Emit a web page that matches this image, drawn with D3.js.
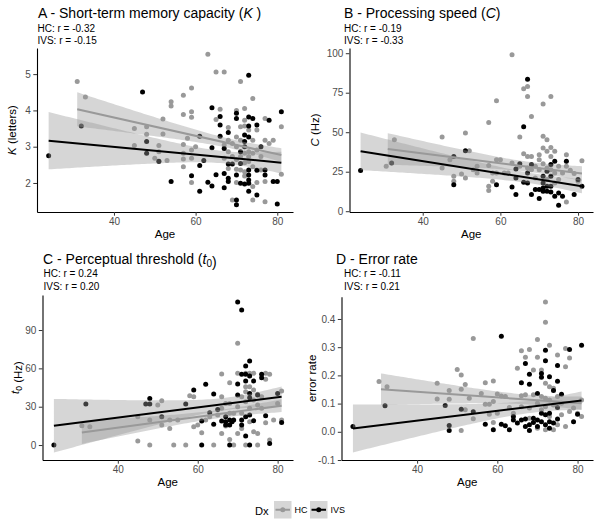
<!DOCTYPE html>
<html><head><meta charset="utf-8">
<script src="https://cdn.jsdelivr.net/npm/d3@7"></script>
<style>body{margin:0;background:#fff} text{font-family:"Liberation Sans",Arial,sans-serif}</style>
</head><body><svg id="c" width="600" height="524"></svg>
<script>
// ---------------- data ----------------
const ageTicks = [40, 60, 80];
const kTicks = [2, 3, 4, 5];
const cTicks = [0, 25, 50, 75, 100];
const t0Ticks = [0, 30, 60, 90];
const errTicks = [-0.1, 0, 0.1, 0.2, 0.3, 0.4];
const groups = ["HC", "IVS"];

const kHC = [[31,4.8],[33,4.37],[45,3.5],[45,3.03],[48,3.55],[48,3.34],[50,2.68],[51,3.03],[51,2.86],[51,2.59],[52,3.76],[52,3.35],[53,2.62],[54,4.24],[54,4.12],[57,4.42],[57,3.89],[57,3.06],[57,2.82],[57,2.66],[57,2.45],[58,3.23],[59,4.62],[59,3.96],[59,3.81],[59,2.91],[59,2.68],[59,2.01],[60,3.0],[63,5.55],[65,5.06],[65,3.75],[66,4.03],[67,5.06],[67,3.05],[67,2.68],[68,3.53],[68,3.18],[68,2.86],[68,2.4],[69,3.09],[69,2.73],[69,1.53],[70,4.0],[70,3.27],[70,3.0],[70,2.65],[70,2.38],[70,2.01],[71,4.8],[71,3.55],[71,3.18],[71,2.73],[71,2.36],[72,4.05],[72,3.73],[72,3.57],[72,2.82],[72,2.56],[72,2.31],[72,2.19],[73,3.46],[73,2.86],[73,2.73],[73,2.59],[74,4.33],[74,3.18],[74,2.82],[74,2.45],[74,1.9],[74,1.53],[75,3.46],[75,2.91],[75,2.01],[76,2.73],[76,2.36],[77,3.78],[77,3.18],[77,2.04],[77,1.48],[78,3.09],[79,3.18],[81,3.55],[81,2.24]];
const kIVS = [[24,2.75],[32,3.57],[47,4.51],[48,3.14],[48,2.82],[51,2.6],[54,2.04],[59,2.2],[61,3.29],[61,2.48],[61,1.77],[62,2.62],[63,2.02],[64,2.97],[64,4.07],[64,1.92],[65,2.23],[66,3.83],[66,3.6],[66,3.29],[67,2.95],[67,2.26],[67,1.87],[68,3.39],[68,2.52],[68,2.13],[68,2.04],[69,2.52],[70,3.92],[70,3.78],[70,1.53],[70,1.4],[70,2.22],[71,1.99],[71,2.86],[71,2.54],[72,1.97],[72,3.32],[72,3.14],[72,3.0],[73,4.97],[73,3.82],[73,3.57],[73,3.27],[73,2.36],[73,2.22],[73,2.08],[73,1.99],[73,1.77],[74,3.78],[75,3.6],[75,2.35],[75,1.67],[76,3.0],[77,2.22],[77,2.36],[78,3.73],[79,2.04],[80,2.04],[80,1.42],[81,3.96]];

const cHC = [[30.6,28.4],[32.7,45.3],[45,46.9],[45,27.4],[47,32.6],[48,22.1],[48,18.9],[50,23.6],[51,49.5],[51,21],[52,38.3],[53,26.3],[54,28.4],[54,24.2],[57,56.2],[57,29],[57,15.8],[57,13.1],[58,24.2],[58,18.9],[59,69.9],[59,32.6],[59,24.2],[60,32.6],[61,24.2],[62,24.2],[63,99],[63,30.5],[65,46.9],[65,28.4],[66,77.5],[66,36.4],[67,78.9],[67,72.6],[67,34.7],[67,27.4],[68,60],[68,34.7],[68,26.3],[69,28.4],[69,21],[70,32.6],[70,35.8],[70,26.3],[71,67.8],[71,47.4],[71,40],[71,30.1],[72,45.3],[72,37.9],[72,27.4],[72,20],[73,72.6],[73,40.4],[73,34.7],[73,26.3],[74,37.9],[74,24.2],[74,17.9],[75,28.4],[75,20],[76,24.2],[77,35.8],[77,28.4],[77,5.9],[78,25.9],[79,23.8],[80,18.9],[81,32]];
const cIVS = [[24,25.7],[32,30.5],[48,16.8],[48,34.7],[51,38.3],[59,16.8],[63,15.4],[64,21],[64,26.7],[64,10.5],[65,30.1],[66,53.5],[66,18.3],[67,83.6],[67,24.2],[67,17.9],[68,10.5],[68,29.5],[69,13.7],[70,13.7],[70,8],[71,12.6],[71,14.7],[71,22.1],[71,17.9],[72,15.8],[72,12.6],[72,25.3],[73,29.5],[73,22.1],[73,15.8],[73,12.2],[74,31.6],[74,9.5],[75,3.8],[75,11.6],[76,9.5],[77,31.6],[79,10.5],[80,20],[81,15.8]];

const t0HC = [[31,15.1],[33,14.3],[45,3.1],[45,22.2],[48,0],[48,19.6],[50,31.3],[51,34.7],[51,15.7],[53,19.6],[53,13],[54,0],[55,19.6],[57,0],[58,38.6],[59,37.8],[59,14.3],[60,15.7],[61,9.7],[62,19.6],[63,22.2],[64,0],[65,23.5],[66,55.6],[66,37.8],[66,28.7],[66,9.1],[67,14.9],[67,32.6],[68,48.8],[68,32.6],[68,24.8],[68,4.4],[69,0],[69,24.8],[70,79.6],[70,56.1],[70,30],[70,9.1],[71,37.8],[71,24.8],[71,13],[72,56.1],[72,45.7],[72,41.7],[72,33.9],[72,0],[73,56.1],[73,45.7],[73,28.7],[73,18.3],[74,56.1],[74,43],[74,35.2],[74,10.4],[75,39.7],[75,31.3],[75,9.1],[75,0],[76,37.8],[76,28.7],[77,56.1],[77,51.4],[77,17.5],[78,55.3],[78,3.9],[79,19.6],[80,32.6],[81,42.3],[81,19.6]];
const t0IVS = [[24,0],[32,32.1],[47,32.1],[48,36.5],[48,32.1],[51,22.2],[57,32.1],[59,43],[61,18.8],[61,0],[62,47.5],[63,25.3],[64,39.9],[64,16.2],[65,27.9],[66,18.8],[67,22.2],[67,15.7],[67,18.3],[68,19.6],[68,15.7],[68,0],[68.6,18.3],[69,19.6],[70,112],[70,47.7],[70,39.1],[71,105.7],[71,55.3],[71,15.7],[71,19.6],[72,61.8],[72,55.3],[72,50.1],[72,7],[72,22.2],[73,65.7],[73,54],[73,40.4],[73,37],[73,23.5],[73,0],[74,50.1],[74,19],[75,39.1],[76,55.3],[76,52.7],[77,23],[78,1.3],[80,40.4],[81,17.7]];

const errHC = [[30.5,0.178],[32.5,0.16],[45,0.172],[45,0.116],[48,0.146],[48,0.115],[50,0.221],[51,0.201],[51,0.151],[51,0.005],[52,0.168],[52,0.078],[53,0.119],[54,0.331],[54,0.046],[56,0.136],[57,0.174],[57,0.098],[58,0.098],[58,0.062],[59,0.18],[59,0.107],[59,0.033],[60,0.134],[60,0.066],[61,0.127],[62,0.125],[63,0.086],[64,0.066],[65,0.225],[66,0.287],[66,0.128],[66,0.089],[67,0.264],[67,0.131],[68,0.292],[68,0.084],[68,0.048],[69,0.219],[69,0.131],[70,0.327],[70,0.264],[70,0.101],[70,0.013],[71,0.219],[71,0.125],[71,0.078],[72,0.46],[72,0.388],[72,0.172],[72,0.119],[72,0.089],[72,0.007],[73,0.307],[73,0.16],[73,0.113],[73,0.054],[74,0.154],[74,0.095],[74,0.007],[75,0.272],[75,0.125],[75,0.025],[76,0.101],[76,0.06],[77,0.231],[77,0.295],[77,0.019],[78,0.262],[78,0.072],[79,0.084],[80,0.066],[81,0.113],[81,0.054]];
const errIVS = [[24,0.019],[32,0.092],[47,0.093],[48,0.022],[48,0.005],[51,0.08],[54,0.071],[57,0.027],[59,0.007],[61,0.339],[61,0.027],[62,0.021],[63,0.007],[64,0.054],[64,0.042],[65,0.031],[66,0.042],[66,0.174],[67,0.242],[67,0.045],[67,0.019],[68,0.204],[68,0.169],[68,0.025],[68,0.005],[69,0.048],[69,0.033],[70,0.136],[70,0.042],[70,0.019],[71,0.207],[71,0.193],[71,0.066],[71,0.036],[72,0.289],[72,0.252],[72,0.06],[72,0.025],[73,0.195],[73,0.066],[73,0.036],[73,0.013],[74,0.146],[74,0.031],[75,0.235],[75,0.179],[75,0.045],[75,0.086],[76,0.133],[78,0.292],[79,0.036],[80,0.062],[81,0.307]];

// linear fits: end ages, fitted values, CI half widths (ends, minimum)
const fitK   = [{dx:"HC",x0:31,x1:81,y0:4.03,y1:2.77,h0:0.47,h1:0.19,hm:0.13},{dx:"IVS",x0:24,x1:81,y0:3.165,y1:2.56,h0:0.79,h1:0.3,hm:0.17}];
const fitC   = [{dx:"HC",x0:31,x1:81,y0:39.4,y1:23.8,h0:10,h1:4.7,hm:3.2},{dx:"IVS",x0:24,x1:81,y0:37.9,y1:15.8,h0:11.9,h1:4.5,hm:3.3}];
const fitT0  = [{dx:"HC",x0:31,x1:81,y0:9.9,y1:30.8,h0:9,h1:5,hm:3.2},{dx:"IVS",x0:24,x1:81,y0:15.1,y1:37.8,h0:21,h1:8,hm:4.8}];
const fitErr = [{dx:"HC",x0:31,x1:81,y0:0.151,y1:0.101,h0:0.056,h1:0.024,hm:0.017},{dx:"IVS",x0:24,x1:81,y0:0.012,y1:0.111,h0:0.085,h1:0.032,hm:0.022}];

const rK = ["HC: r = -0.32", "IVS: r = -0.15"];
const rC = ["HC: r = -0.19", "IVS: r = -0.33"];
const rT0 = ["HC: r = 0.24", "IVS: r = 0.20"];
const rErr = ["HC: r = -0.11", "IVS: r = 0.21"];

// ---------------- drawing ----------------
const svg = d3.select("#c");
const color = d3.scaleOrdinal().domain(groups).range(["#999999", "#000000"]);

const panels = [
  {title:["A - Short-term memory capacity (", {it:"K"}, " )"], r:rK, ylab:[{it:"K"}," (letters)"], hc:kHC, ivs:kIVS, fit:fitK, ticks:kTicks, fmt:d=>String(d),
   L:37, R:293, T:48, B:212, yd:[1.2,5.72], tx:38, sx:37.5, ty:18, ylx:12},
  {title:["B - Processing speed (", {it:"C"}, ")"], r:rC, ylab:[{it:"C"}," (Hz)"], hc:cHC, ivs:cIVS, fit:fitC, ticks:cTicks, fmt:d=>String(d),
   L:349.5, R:593, T:48, B:212, yd:[-0.5,103.3], tx:344, sx:344, ty:18, ylx:315},
  {title:["C - Perceptual threshold (", {it:"t", sub:"0"}, ")"], r:rT0, ylab:[{it:"t", sub:"0"}," (Hz)"], hc:t0HC, ivs:t0IVS, fit:fitT0, ticks:t0Ticks, fmt:d=>String(d),
   L:42.5, R:293, T:295, B:460, yd:[-11.7,117.4], tx:43, sx:43.5, ty:263.5, ylx:15},
  {title:["D - Error rate"], r:rErr, ylab:["error rate"], hc:errHC, ivs:errIVS, fit:fitErr, ticks:errTicks, fmt:d=>d.toFixed(1),
   L:341.5, R:593, T:296.7, B:460, yd:[-0.1,0.479], tx:336, sx:344, ty:263.5, ylx:312}
];

function richText(sel, parts, subSize) {
  parts.forEach(p => {
    if (typeof p === "string") sel.append("tspan").text(p);
    else {
      sel.append("tspan").attr("font-style","italic").text(p.it);
      if (p.sub) {
        sel.append("tspan").attr("font-size", subSize).attr("dy", "0.3em").text(p.sub);
        sel.append("tspan").attr("dy", "-0.3em").text("");
      }
    }
  });
}

panels.forEach(p => {
  const g = svg.append("g");
  const x = d3.scaleLinear().domain([21.15, 83.85]).range([p.L, p.R]);
  const y = d3.scaleLinear().domain(p.yd).range([p.B, p.T]);

  // points
  [["HC", p.hc], ["IVS", p.ivs]].forEach(([dx, arr]) => {
    g.append("g").selectAll("circle").data(arr).join("circle")
      .attr("cx", d => x(d[0])).attr("cy", d => y(d[1])).attr("r", 2.5)
      .attr("fill", color(dx));
  });

  // smooth: ribbon then line per group
  p.fit.forEach(f => {
    const A0 = f.h0*f.h0 - f.hm*f.hm, A1 = f.h1*f.h1 - f.hm*f.hm;
    const rr = Math.sqrt(A0 / A1);
    const c = (f.x0 + rr*f.x1) / (1 + rr);
    const k = A0 / ((c - f.x0)*(c - f.x0));
    const fitAt = a => f.y0 + (f.y1 - f.y0)*(a - f.x0)/(f.x1 - f.x0);
    const hw = a => Math.sqrt(f.hm*f.hm + k*(a - c)*(a - c));
    const pts = d3.range(0, 81).map(i => f.x0 + (f.x1 - f.x0)*i/80);
    g.append("path").datum(pts)
      .attr("d", d3.area().x(a => x(a)).y0(a => y(fitAt(a) - hw(a))).y1(a => y(fitAt(a) + hw(a))))
      .attr("fill", "#999999").attr("fill-opacity", 0.4);
    g.append("path").datum([f.x0, f.x1])
      .attr("d", d3.line().x(a => x(a)).y(a => y(fitAt(a))))
      .attr("stroke", color(f.dx)).attr("stroke-width", 2).attr("fill", "none");
  });

  // axes
  const xa = g.append("g").attr("transform", `translate(0,${p.B})`)
    .call(d3.axisBottom(x).tickValues(ageTicks).tickSize(3.7).tickPadding(2.5).tickSizeOuter(0));
  const ya = g.append("g").attr("transform", `translate(${p.L},0)`)
    .call(d3.axisLeft(y).tickValues(p.ticks).tickFormat(p.fmt).tickSize(3.7).tickPadding(2.5).tickSizeOuter(0));
  [xa, ya].forEach(a => {
    a.select(".domain").attr("stroke", "#000").attr("stroke-width", 1.1);
    a.selectAll(".tick line").attr("stroke", "#333").attr("stroke-width", 1);
    a.selectAll(".tick text").attr("fill", "#4d4d4d").attr("font-size", 10)
      .attr("font-family", '"Liberation Sans",Arial,sans-serif');
  });

  // titles
  const t = g.append("text").attr("x", p.tx).attr("y", p.ty).attr("font-size", 14).attr("fill", "#000");
  richText(t, p.title, 10);
  p.r.forEach((s, i) => {
    g.append("text").attr("x", p.sx).attr("y", p.ty + 13.5 + i*12.6).attr("font-size", 10).attr("fill", "#000").text(s);
  });
  g.append("text").attr("x", (p.L + p.R)/2).attr("y", p.B + 26).attr("text-anchor", "middle")
    .attr("font-size", 11.5).attr("fill", "#000").text("Age");
  const yl = g.append("text").attr("transform", `translate(${p.ylx},${(p.T + p.B)/2}) rotate(-90)`)
    .attr("text-anchor", "middle").attr("dy", "0.35em").attr("font-size", 11.5).attr("fill", "#000");
  richText(yl, p.ylab, 8.5);
});

// legend
const lg = svg.append("g");
lg.append("text").attr("x", 255).attr("y", 514.5).attr("font-size", 11.2).text("Dx");
const keyX = d3.scaleOrdinal().domain(groups).range([274, 310]);
groups.forEach(dx => {
  const kx = keyX(dx);
  lg.append("rect").attr("x", kx).attr("y", 501).attr("width", 17.5).attr("height", 17.5)
    .attr("fill", "#999999").attr("fill-opacity", 0.4);
  lg.append("line").attr("x1", kx + 1.5).attr("x2", kx + 16).attr("y1", 509.75).attr("y2", 509.75)
    .attr("stroke", color(dx)).attr("stroke-width", 2);
  lg.append("circle").attr("cx", kx + 8.75).attr("cy", 509.75).attr("r", 2.5).attr("fill", color(dx));
  lg.append("text").attr("x", kx + 20.5).attr("y", 513).attr("font-size", 9).text(dx);
});
</script></body></html>
